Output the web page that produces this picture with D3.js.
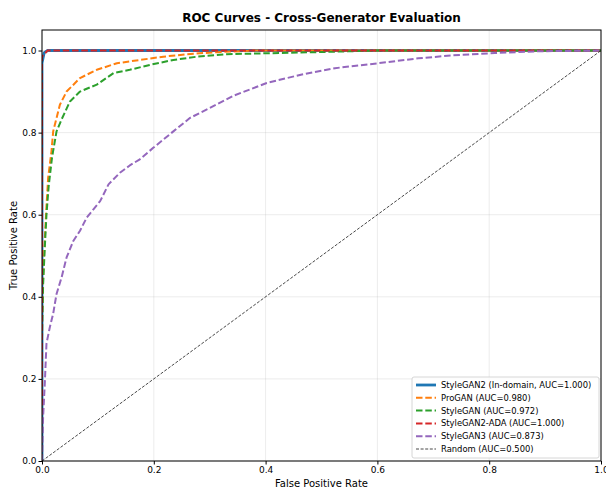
<!DOCTYPE html>
<html>
<head>
<meta charset="utf-8">
<script src="https://cdn.jsdelivr.net/npm/d3@7"></script>
<style>
  body { margin: 0; background: #fff; }
  svg { font-family: "DejaVu Sans", sans-serif; }
</style>
</head>
<body>
<div id="chart"></div>
<script>
// ROC points, [fpr, tpr]
const styleGAN2 = [[0, 0], [0, 0.97], [0.004, 0.995], [0.01, 1], [1, 1]];
const proGAN = [[0, 0], [0, 0.35], [0.002, 0.45], [0.005, 0.54], [0.008, 0.62], [0.011, 0.69],
  [0.017, 0.755], [0.02, 0.803], [0.032, 0.868], [0.044, 0.9], [0.068, 0.933], [0.098, 0.953],
  [0.134, 0.969], [0.175, 0.977], [0.217, 0.985], [0.259, 0.991], [0.312, 0.996], [0.38, 1], [1, 1]];
const styleGAN = [[0, 0], [0, 0.3], [0.002, 0.43], [0.005, 0.52], [0.008, 0.6], [0.012, 0.67],
  [0.018, 0.74], [0.026, 0.803], [0.035, 0.832], [0.05, 0.876], [0.068, 0.9], [0.098, 0.917],
  [0.128, 0.945], [0.157, 0.953], [0.193, 0.965], [0.235, 0.977], [0.277, 0.985], [0.33, 0.991],
  [0.49, 0.996], [0.6, 1], [1, 1]];
const styleGAN2ADA = [[0, 0], [0, 0.985], [0.01, 1], [1, 1]];
const styleGAN3 = [[0, 0], [0.002, 0.108], [0.005, 0.189], [0.008, 0.286], [0.014, 0.326],
  [0.02, 0.359], [0.026, 0.407], [0.035, 0.447], [0.044, 0.496], [0.056, 0.536], [0.068, 0.561],
  [0.08, 0.593], [0.092, 0.613], [0.104, 0.633], [0.119, 0.674], [0.14, 0.703], [0.157, 0.72],
  [0.175, 0.735], [0.199, 0.763], [0.235, 0.803], [0.265, 0.836], [0.3, 0.86], [0.343, 0.89],
  [0.402, 0.921], [0.463, 0.941], [0.524, 0.957], [0.601, 0.969], [0.673, 0.981], [0.733, 0.988],
  [0.81, 0.994], [0.882, 0.998], [1, 1]];
const randomLine = [[0, 0], [1, 1]];

const seriesNames = ["StyleGAN2 (In-domain, AUC=1.000)", "ProGAN (AUC=0.980)", "StyleGAN (AUC=0.972)",
  "StyleGAN2-ADA (AUC=1.000)", "StyleGAN3 (AUC=0.873)", "Random (AUC=0.500)"];
const seriesData = [styleGAN2, proGAN, styleGAN, styleGAN2ADA, styleGAN3, randomLine];
const tickValues = [0, 0.2, 0.4, 0.6, 0.8, 1.0];

(function () {
  const margin = { top: 30, right: 5, bottom: 29, left: 42 };
  const width = 606 - margin.left - margin.right;
  const height = 490 - margin.top - margin.bottom;

  const styles = [
    { color: "#1f77b4", width: 2.8, dash: null },
    { color: "#ff7f0e", width: 2, dash: "6.5,2.8" },
    { color: "#2ca02c", width: 2, dash: "6.5,2.8" },
    { color: "#d62728", width: 2, dash: "6.5,2.8" },
    { color: "#9467bd", width: 2, dash: "6.5,2.8" },
    { color: "#333", width: 0.9, dash: "3,1.6" }
  ];

  const svg = d3.select("#chart")
    .append("svg")
    .attr("width", 606)
    .attr("height", 490);

  const g = svg.append("g")
    .attr("transform", "translate(" + margin.left + "," + margin.top + ")");

  const x = d3.scaleLinear().domain([0, 1]).range([0, width]);
  const y = d3.scaleLinear().domain([0, 1.05]).range([height, 0]);

  // grid
  g.append("g").selectAll("line").data(tickValues).join("line")
    .attr("x1", d => x(d)).attr("x2", d => x(d))
    .attr("y1", 0).attr("y2", height)
    .attr("stroke", "#b0b0b0").attr("stroke-opacity", 0.3).attr("stroke-width", 0.8);
  g.append("g").selectAll("line").data(tickValues).join("line")
    .attr("y1", d => y(d)).attr("y2", d => y(d))
    .attr("x1", 0).attr("x2", width)
    .attr("stroke", "#b0b0b0").attr("stroke-opacity", 0.3).attr("stroke-width", 0.8);

  const line = d3.line()
    .x(d => x(d[0]))
    .y(d => y(d[1]));

  g.append("defs").append("clipPath").attr("id", "clip")
    .append("rect").attr("width", width).attr("height", height);

  const curves = g.append("g").attr("clip-path", "url(#clip)");
  seriesData.forEach((data, i) => {
    curves.append("path")
      .datum(data)
      .attr("d", line)
      .attr("fill", "none")
      .attr("stroke", styles[i].color)
      .attr("stroke-width", styles[i].width)
      .attr("stroke-dasharray", styles[i].dash)
      .attr("stroke-linejoin", "round");
  });

  // axes
  const xAxis = g.append("g")
    .attr("transform", "translate(0," + height + ")")
    .call(d3.axisBottom(x).tickValues(tickValues).tickFormat(d3.format(".1f")).tickSize(3.5).tickPadding(2));
  const yAxis = g.append("g")
    .call(d3.axisLeft(y).tickValues(tickValues).tickFormat(d3.format(".1f")).tickSize(3.5).tickPadding(2));
  [xAxis, yAxis].forEach(a => {
    a.select(".domain").remove();
    a.selectAll("text").attr("font-size", "9px").attr("fill", "#000").attr("font-family", "DejaVu Sans");
    a.selectAll("line").attr("stroke", "#000");
  });

  // frame
  g.append("rect")
    .attr("width", width).attr("height", height)
    .attr("fill", "none").attr("stroke", "#000").attr("stroke-width", 1);

  // labels
  svg.append("text")
    .attr("x", margin.left + width / 2).attr("y", 22)
    .attr("text-anchor", "middle").attr("font-size", "12px").attr("font-weight", "bold")
    .text("ROC Curves - Cross-Generator Evaluation");
  svg.append("text")
    .attr("x", margin.left + width / 2).attr("y", 487)
    .attr("text-anchor", "middle").attr("font-size", "10px")
    .text("False Positive Rate");
  svg.append("text")
    .attr("transform", "translate(17," + (margin.top + height / 2) + ") rotate(-90)")
    .attr("text-anchor", "middle").attr("font-size", "10px")
    .text("True Positive Rate");

  // legend
  const legend = g.append("g")
    .attr("transform", "translate(" + (width - 189) + "," + (height - 84) + ")");
  legend.append("rect")
    .attr("width", 187).attr("height", 81).attr("rx", 2)
    .attr("fill", "#fff").attr("fill-opacity", 0.8)
    .attr("stroke", "#ccc").attr("stroke-width", 0.8);
  seriesNames.forEach((name, i) => {
    const row = legend.append("g").attr("transform", "translate(0," + (8 + i * 12.8) + ")");
    row.append("line")
      .attr("x1", 4).attr("x2", 24)
      .attr("stroke", styles[i].color)
      .attr("stroke-width", styles[i].width)
      .attr("stroke-dasharray", styles[i].dash);
    row.append("text")
      .attr("x", 29).attr("y", 3)
      .attr("font-size", "8.4px")
      .text(name);
  });
})();
</script>
</body>
</html>
